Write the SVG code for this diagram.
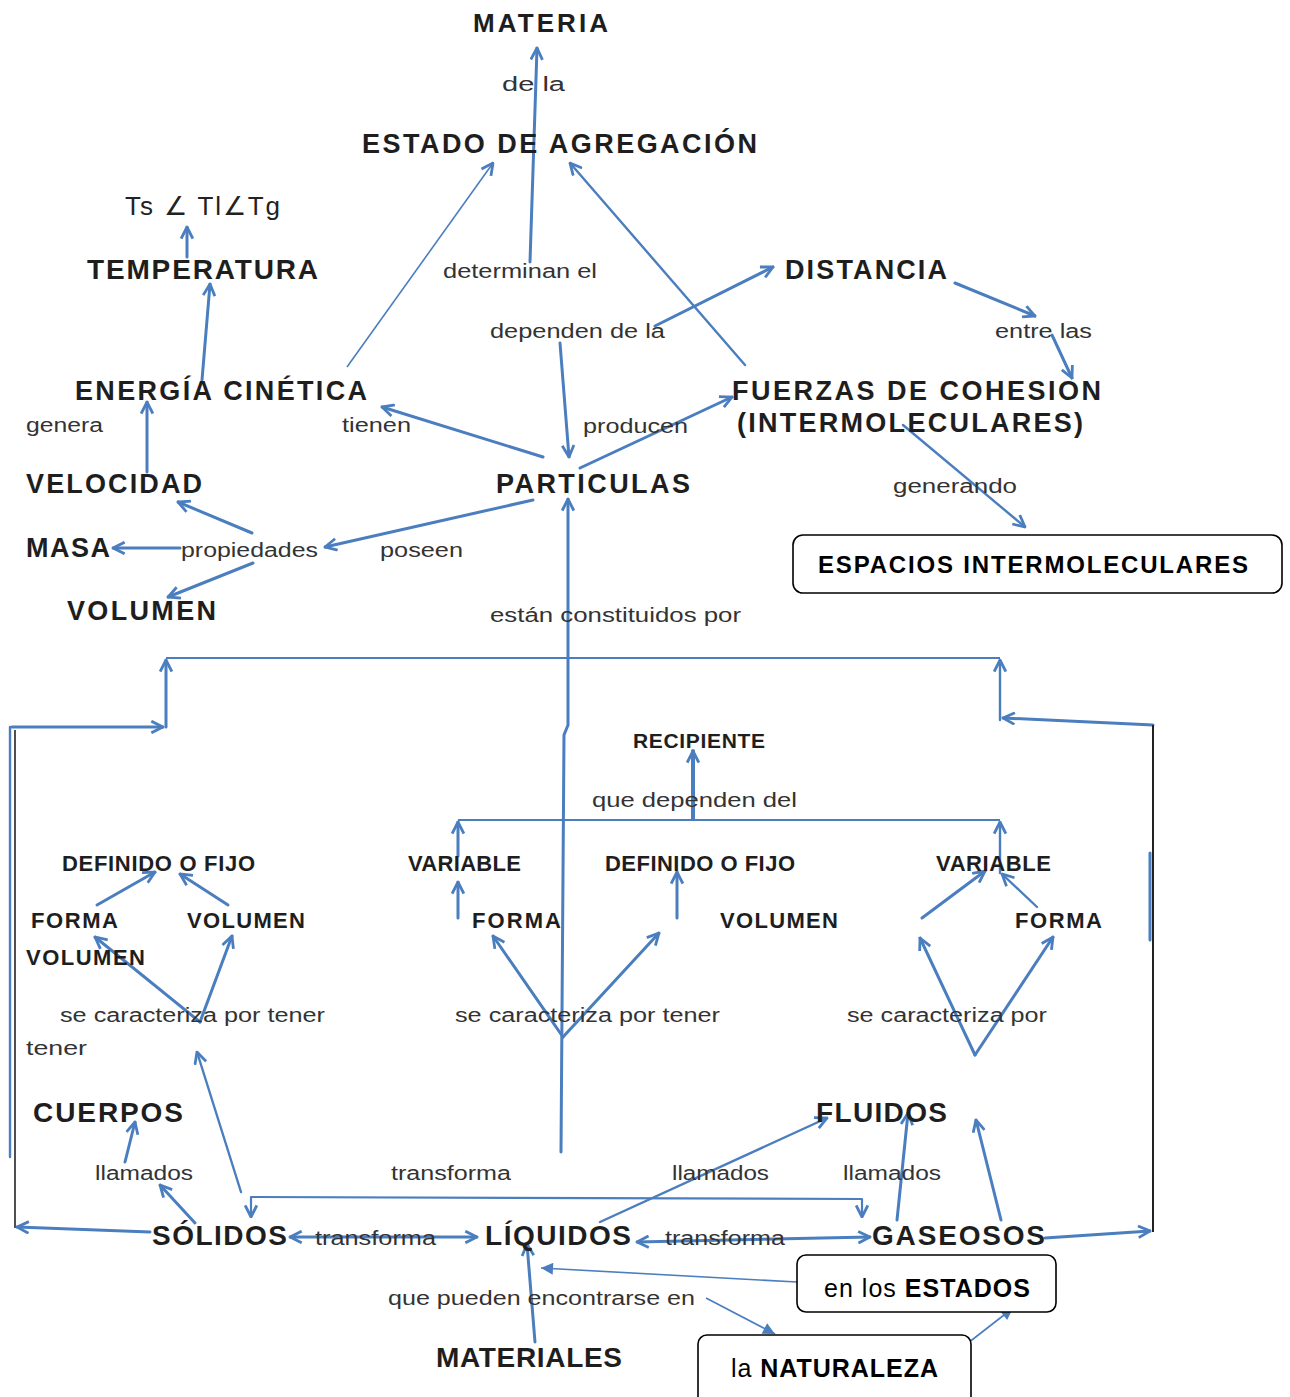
<svg xmlns="http://www.w3.org/2000/svg" width="1290" height="1397" viewBox="0 0 1290 1397">
<defs>
<style>
.c{font-family:"Liberation Sans",Arial,sans-serif;font-weight:bold;fill:#1e1e1e}
.l{font-family:"Liberation Sans",Arial,sans-serif;font-size:20px;fill:#333}
.b{font-family:"Liberation Sans",Arial,sans-serif;fill:#000}
.e{fill:none;stroke:#4a7ebf;stroke-width:3;stroke-linecap:round}
.t{fill:none;stroke:#4a7ebf;stroke-width:1.6}
.k{fill:none;stroke:#222;stroke-width:1.6}
.a{marker-end:url(#ah)}
.f{marker-end:url(#fh)}
.box{fill:#fff;stroke:#000;stroke-width:1.6}
</style>
<marker id="ah" viewBox="0 0 12 12" refX="11" refY="6" markerWidth="14" markerHeight="14" markerUnits="userSpaceOnUse" orient="auto-start-reverse">
<path d="M1,1 L11,6 L1,11" fill="none" stroke="#4a7ebf" stroke-width="2.4"/>
</marker>
<marker id="fh" viewBox="0 0 10 10" refX="10" refY="5" markerWidth="14" markerHeight="12" markerUnits="userSpaceOnUse" orient="auto">
<path d="M0,0 L10,5 L0,10 z" fill="#4a7ebf"/>
</marker>
</defs>
<rect width="1290" height="1397" fill="#fff"/>

<g id="connectors">
<path class="e a" d="M530,262 L537,48"/>
<path class="t a" d="M347,367 L493,163"/>
<path class="e a" d="M745,365 L570,163" style="stroke-width:2.4"/>
<path class="e a" d="M655,326 L773,267"/>
<path class="e a" d="M955,283 L1035,316"/>
<path class="e a" d="M1052,335 L1072,378"/>
<path class="e a" d="M903,425 L1025,527" style="stroke-width:2.4"/>
<path class="e a" d="M560,343 L569,457"/>
<path class="e a" d="M580,468 L732,397"/>
<path class="e a" d="M543,457 L382,407"/>
<path class="e a" d="M533,500 L325,547"/>
<path class="e a" d="M252,533 L178,502"/>
<path class="e a" d="M180,548 L113,548"/>
<path class="e a" d="M253,563 L168,597"/>
<path class="e a" d="M147,472 L147,402"/>
<path class="e a" d="M202,380 L210,284"/>
<path class="e a" d="M187,257 L187,227"/>
<path class="e a" d="M561,1152 L564,735 L568,725 L568,499"/>

<path class="t" d="M166,658 L1000,658" style="stroke-width:2"/>
<path class="e a" d="M166,727 L166,660"/>
<path class="e a" d="M12,727 L163,727"/>
<path class="e" d="M10,727 L10,1157" style="stroke-width:2.4"/>
<path class="k" d="M15,730 L15,1228"/>
<path class="e a" d="M150,1232 L17,1227"/>
<path class="e a" d="M1000,720 L1000,660" style="stroke-width:2.4"/>
<path class="e a" d="M1153,725 L1003,718"/>
<path class="k" d="M1153,725 L1153,1232" style="stroke-width:2"/>
<path class="e" d="M1150,853 L1150,940"/>
<path class="e a" d="M1045,1238 L1150,1231"/>

<path class="e a" d="M693,819 L693,751" style="stroke-width:4"/>
<path class="t" d="M458,820 L1000,820" style="stroke-width:2"/>
<path class="e a" d="M458,856 L458,822"/>
<path class="e a" d="M458,918 L458,882"/>
<path class="e a" d="M1000,873 L1000,822" style="stroke-width:2.4"/>
<path class="e a" d="M922,918 L985,871"/>
<path class="e a" d="M1037,907 L1002,874" style="stroke-width:2.4"/>
<path class="e a" d="M677,918 L677,872"/>
<path class="e a" d="M563,1037 L493,936"/>
<path class="e a" d="M563,1037 L659,933"/>
<path class="e a" d="M975,1055 L920,938"/>
<path class="e a" d="M975,1055 L1053,937"/>
<path class="e a" d="M97,905 L155,872"/>
<path class="e a" d="M228,905 L180,874"/>
<path class="e a" d="M200,1022 L95,937"/>
<path class="e a" d="M200,1022 L232,936"/>
<path class="e a" d="M241,1192 L197,1052" style="stroke-width:2.4"/>

<path class="e a" d="M125,1162 L135,1122"/>
<path class="e a" d="M195,1223 L160,1185"/>
<path class="t" d="M251,1197 L862,1199" style="stroke-width:2.2"/>
<path class="e a" d="M251,1197 L251,1217" style="stroke-width:2.2"/>
<path class="e a" d="M862,1199 L862,1217" style="stroke-width:2.2"/>
<path class="e a" d="M600,1222 L827,1118" style="stroke-width:2.4"/>
<path class="e a" d="M897,1220 L908,1113"/>
<path class="e a" d="M1001,1220 L976,1120"/>
<path class="e a" d="M290,1237 L477,1237" style="marker-start:url(#ah)"/>
<path class="e a" d="M637,1242 L870,1237" style="marker-start:url(#ah)"/>
<path class="e a" d="M535,1342 L527,1244"/>
<path class="t f" d="M797,1282 L541,1268"/>
<path class="t f" d="M706,1298 L775,1334"/>
<path class="t f" d="M968,1343 L1013,1308"/>
</g>

<g id="n-materia"><text class="c" x="473" y="32" font-size="26" textLength="135">MATERIA</text></g>
<g id="n-estado"><text class="c" x="362" y="153" font-size="27" textLength="395">ESTADO DE AGREGACIÓN</text></g>
<g id="n-ts"><text class="c" x="125" y="215" font-size="26" textLength="155" style="font-weight:normal;fill:#222">Ts ∠ Tl∠Tg</text></g>
<g id="n-temperatura"><text class="c" x="87" y="279" font-size="28" textLength="231">TEMPERATURA</text></g>
<g id="n-distancia"><text class="c" x="785" y="279" font-size="27" textLength="162">DISTANCIA</text></g>
<g id="n-energia"><text class="c" x="75" y="400" font-size="27" textLength="292">ENERGÍA CINÉTICA</text></g>
<g id="n-fuerzas"><text class="c" x="732" y="400" font-size="27" textLength="369">FUERZAS DE COHESION</text><text class="c" x="737" y="432" font-size="27" textLength="346">(INTERMOLECULARES)</text></g>
<g id="n-velocidad"><text class="c" x="26" y="493" font-size="27" textLength="176">VELOCIDAD</text></g>
<g id="n-particulas"><text class="c" x="496" y="493" font-size="27" textLength="194">PARTICULAS</text></g>
<g id="n-masa"><text class="c" x="26" y="557" font-size="27" textLength="84">MASA</text></g>
<g id="n-volumen"><text class="c" x="67" y="620" font-size="27" textLength="149">VOLUMEN</text></g>
<g id="n-espacios"><rect class="box" x="793" y="535" width="489" height="58" rx="10"/><text class="b" x="818" y="573" font-size="24" font-weight="bold" textLength="430">ESPACIOS INTERMOLECULARES</text></g>

<g id="n-recipiente"><text class="c" x="633" y="748" font-size="21" textLength="132">RECIPIENTE</text></g>
<g id="n-definido1"><text class="c" x="62" y="871" font-size="22" textLength="193">DEFINIDO O FIJO</text></g>
<g id="n-forma1"><text class="c" x="31" y="928" font-size="22" textLength="87">FORMA</text></g>
<g id="n-volumen1"><text class="c" x="187" y="928" font-size="22" textLength="118">VOLUMEN</text></g>
<g id="n-volumen1b"><text class="c" x="26" y="965" font-size="22" textLength="119">VOLUMEN</text></g>
<g id="n-variable2"><text class="c" x="408" y="871" font-size="22" textLength="113">VARIABLE</text></g>
<g id="n-definido2"><text class="c" x="605" y="871" font-size="22" textLength="190">DEFINIDO O FIJO</text></g>
<g id="n-variable3"><text class="c" x="936" y="871" font-size="22" textLength="115">VARIABLE</text></g>
<g id="n-forma2"><text class="c" x="472" y="928" font-size="22" textLength="89">FORMA</text></g>
<g id="n-volumen2"><text class="c" x="720" y="928" font-size="22" textLength="118">VOLUMEN</text></g>
<g id="n-forma3"><text class="c" x="1015" y="928" font-size="22" textLength="87">FORMA</text></g>

<g id="n-cuerpos"><text class="c" x="33" y="1122" font-size="28" textLength="150">CUERPOS</text></g>
<g id="n-fluidos"><text class="c" x="816" y="1122" font-size="28" textLength="131">FLUIDOS</text></g>
<g id="n-solidos"><text class="c" x="152" y="1245" font-size="28" textLength="135">SÓLIDOS</text></g>
<g id="n-liquidos"><text class="c" x="485" y="1245" font-size="28" textLength="146">LÍQUIDOS</text></g>
<g id="n-gaseosos"><text class="c" x="872" y="1245" font-size="28" textLength="173">GASEOSOS</text></g>
<g id="n-materiales"><text class="c" x="436" y="1367" font-size="28" textLength="186">MATERIALES</text></g>
<g id="n-estados"><rect class="box" x="797" y="1255" width="259" height="57" rx="9"/><text class="b" x="824" y="1297" font-size="25" textLength="206">en los <tspan font-weight="bold">ESTADOS</tspan></text></g>
<g id="n-naturaleza"><rect class="box" x="698" y="1335" width="273" height="80" rx="9"/><text class="b" x="731" y="1377" font-size="25" textLength="207">la <tspan font-weight="bold">NATURALEZA</tspan></text></g>

<g id="labels" lengthAdjust="spacingAndGlyphs">
<text class="l" x="502" y="91" textLength="63" lengthAdjust="spacingAndGlyphs">de la</text>
<text class="l" x="443" y="278" textLength="154" lengthAdjust="spacingAndGlyphs">determinan el</text>
<text class="l" x="490" y="338" textLength="175" lengthAdjust="spacingAndGlyphs">dependen de la</text>
<text class="l" x="995" y="338" textLength="97" lengthAdjust="spacingAndGlyphs">entre las</text>
<text class="l" x="26" y="432" textLength="77" lengthAdjust="spacingAndGlyphs">genera</text>
<text class="l" x="342" y="432" textLength="69" lengthAdjust="spacingAndGlyphs">tienen</text>
<text class="l" x="583" y="433" textLength="105" lengthAdjust="spacingAndGlyphs">producen</text>
<text class="l" x="893" y="493" textLength="124" lengthAdjust="spacingAndGlyphs">generando</text>
<text class="l" x="181" y="557" textLength="137" lengthAdjust="spacingAndGlyphs">propiedades</text>
<text class="l" x="380" y="557" textLength="83" lengthAdjust="spacingAndGlyphs">poseen</text>
<text class="l" x="490" y="622" textLength="251" lengthAdjust="spacingAndGlyphs">están constituidos por</text>
<text class="l" x="592" y="807" textLength="205" lengthAdjust="spacingAndGlyphs">que dependen del</text>
<text class="l" x="60" y="1022" textLength="265" lengthAdjust="spacingAndGlyphs">se caracteriza por tener</text>
<text class="l" x="26" y="1055" textLength="61" lengthAdjust="spacingAndGlyphs">tener</text>
<text class="l" x="455" y="1022" textLength="265" lengthAdjust="spacingAndGlyphs">se caracteriza por tener</text>
<text class="l" x="847" y="1022" textLength="200" lengthAdjust="spacingAndGlyphs">se caracteriza por</text>
<text class="l" x="95" y="1180" textLength="98" lengthAdjust="spacingAndGlyphs">llamados</text>
<text class="l" x="391" y="1180" textLength="120" lengthAdjust="spacingAndGlyphs">transforma</text>
<text class="l" x="672" y="1180" textLength="97" lengthAdjust="spacingAndGlyphs">llamados</text>
<text class="l" x="843" y="1180" textLength="98" lengthAdjust="spacingAndGlyphs">llamados</text>
<text class="l" x="315" y="1245" textLength="121" lengthAdjust="spacingAndGlyphs">transforma</text>
<text class="l" x="665" y="1245" textLength="120" lengthAdjust="spacingAndGlyphs">transforma</text>
<text class="l" x="388" y="1305" textLength="307" lengthAdjust="spacingAndGlyphs">que pueden encontrarse en</text>
</g>
</svg>
